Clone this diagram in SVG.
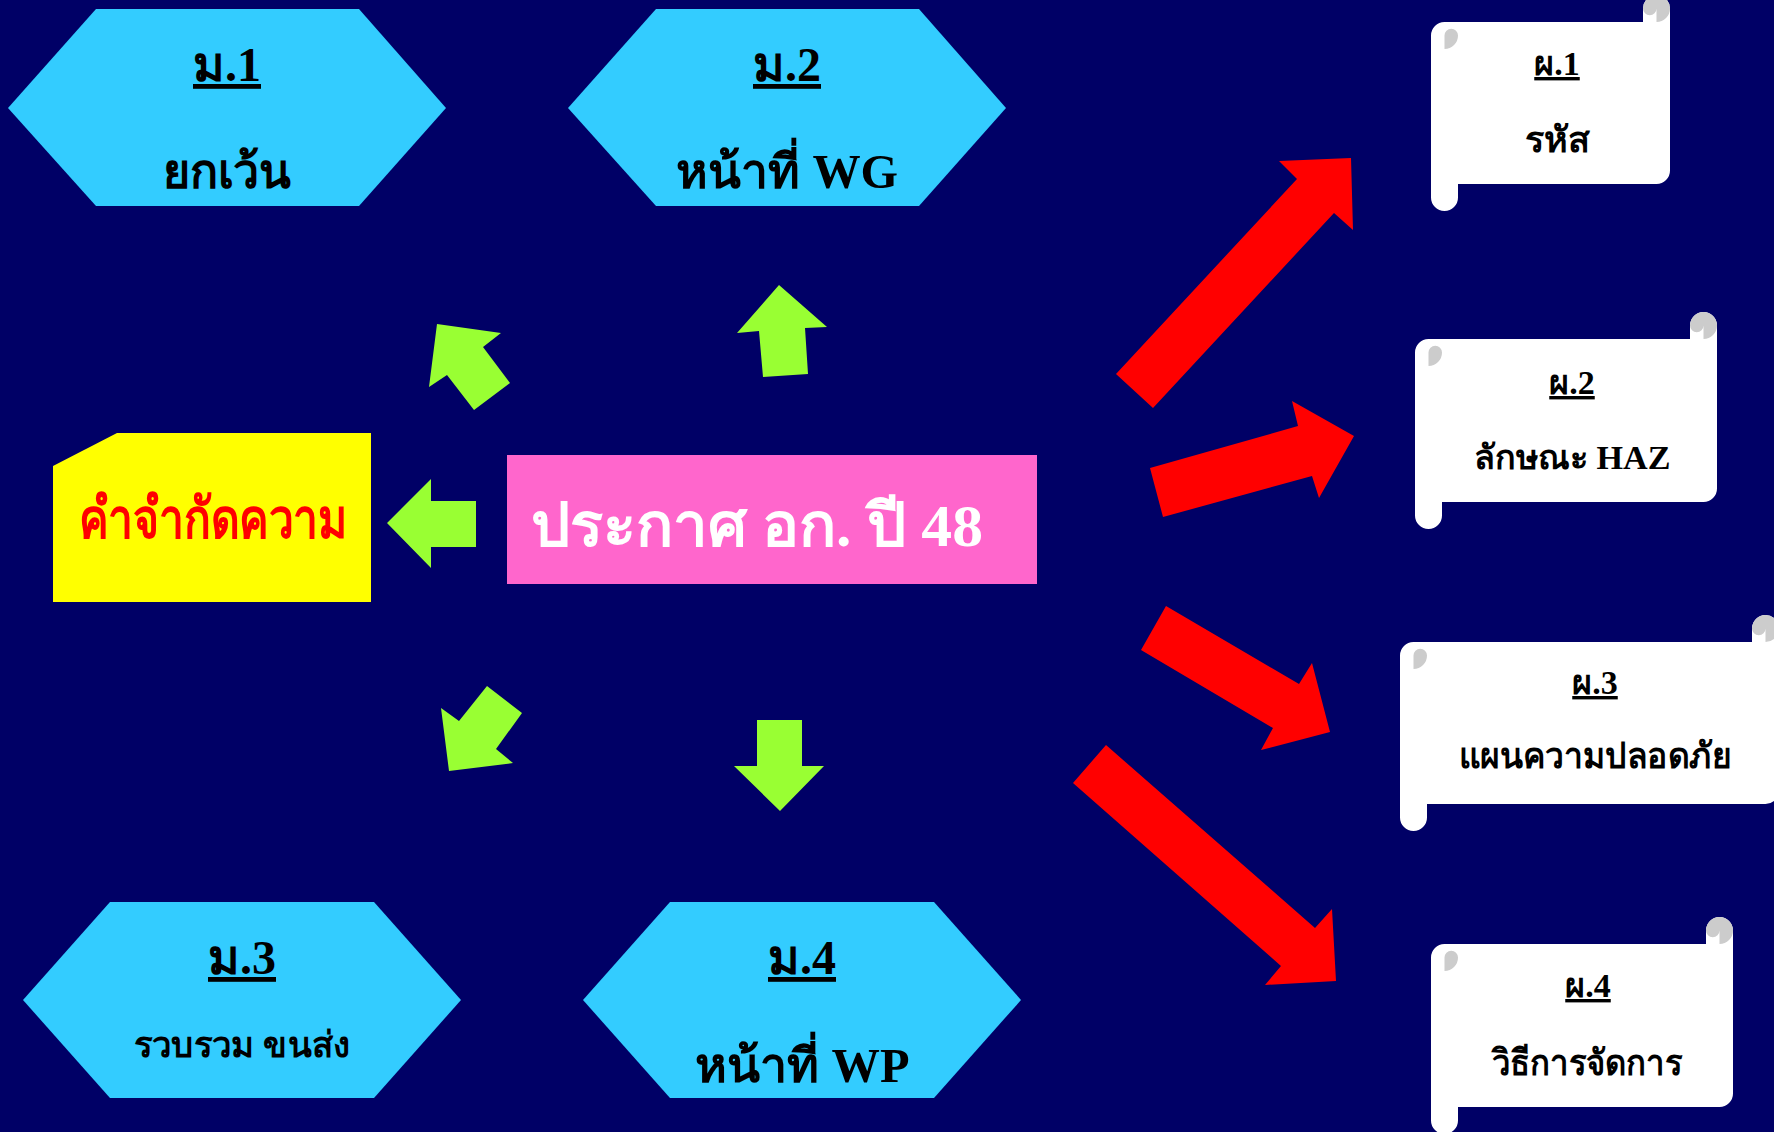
<svg xmlns="http://www.w3.org/2000/svg" width="1774" height="1132" viewBox="0 0 1774 1132">
<style>
.hex{fill:#33CCFF}
.green{fill:#99FF33}
.red{fill:#FF0000}
.body{fill:#FFFFFF}
.curl{fill:#CCCCCC}
text{font-family:"Liberation Serif","Times New Roman",serif;font-weight:bold;text-anchor:middle;fill:#000000}
.u{text-decoration:underline}
</style>
<rect x="0" y="0" width="1774" height="1132" fill="#000066"/>
<g id="connectors">
<polygon class="green" points="387,523 431,479 431,501 476,501 476,547 431,547 431,568"/>
<polygon class="green" points="779,285 827,327 805,328 808,374 763,377 759,331 737,333"/>
<polygon class="green" points="437,324 501,333 483,347 510,383 474,410 447,375 429,387"/>
<polygon class="green" points="449,771 513,763 496,749 522,713 487,686 459,721 441,708"/>
<polygon class="green" points="757,720 802,720 802,766 824,766 780,811 734,766 757,766"/>
<polygon class="red" points="1116,374 1297,179 1279,161 1351,158 1353,230 1334,213 1153,408"/>
<polygon class="red" points="1150,468 1298,426 1292,401 1354,436 1319,498 1312,476 1163,517"/>
<polygon class="red" points="1166,606 1299,684 1312,663 1330,732 1261,750 1273,728 1141,650"/>
<polygon class="red" points="1106,745 1315,928 1332,909 1336,981 1265,985 1281,966 1073,783"/>
</g>
<g id="m1">
<polygon class="hex" points="8,108 96,9 359,9 446,108 359,206 96,206"/>
<text class="u" x="227" y="81" font-size="48">ม.1</text>
<text x="227" y="188" font-size="48" textLength="129" lengthAdjust="spacingAndGlyphs">ยกเว้น</text>
</g>
<g id="m2">
<polygon class="hex" points="568,108 656,9 919,9 1006,108 919,206 656,206"/>
<text class="u" x="787" y="81" font-size="48">ม.2</text>
<text x="787" y="188" font-size="48" textLength="222" lengthAdjust="spacingAndGlyphs">หน้าที่ WG</text>
</g>
<g id="m3">
<polygon class="hex" points="23,1000 110,902 374,902 461,1000 374,1098 110,1098"/>
<text class="u" x="242" y="974" font-size="48">ม.3</text>
<text x="242" y="1057" font-size="36" textLength="217" lengthAdjust="spacingAndGlyphs">รวบรวม ขนส่ง</text>
</g>
<g id="m4">
<polygon class="hex" points="583,1000 670,902 934,902 1021,1000 934,1098 670,1098"/>
<text class="u" x="802" y="974" font-size="48">ม.4</text>
<text x="802" y="1082" font-size="48" textLength="215" lengthAdjust="spacingAndGlyphs">หน้าที่ WP</text>
</g>
<g id="definition">
<path d="M117,433 L371,433 L371,602 L53,602 L53,466 Z" fill="#FFFF00"/>
<text x="213" y="538" font-size="56" style="fill:#FF0000" textLength="268" lengthAdjust="spacingAndGlyphs">คำจำกัดความ</text>
</g>
<g id="announcement">
<rect x="507" y="455" width="530" height="129" fill="#FF66CC"/>
<text x="757" y="546" font-size="60" style="fill:#FFFFFF" textLength="452" lengthAdjust="spacingAndGlyphs">ประกาศ อก. ปี 48</text>
</g>
<g id="p1">
<path class="body" d="M1431,35.5 A13.5,13.5 0 0 1 1444.5,22 L1643,22 L1643,8.5 A13.5,13.5 0 0 1 1670,8.5 L1670,170.5 A13.5,13.5 0 0 1 1656.5,184 L1458,184 L1458,197.5 A13.5,13.5 0 0 1 1431,197.5 Z"/>
<path class="curl" d="M1444.5,49 A13.5,13.5 0 0 0 1458,35.5 A6.75,6.75 0 0 0 1444.5,35.5 Z M1656.5,22 A13.5,13.5 0 1 0 1643,8.5 A6.75,6.75 0 0 0 1656.5,8.5 Z"/>
<text class="u" x="1557" y="75" font-size="34">ผ.1</text>
<text x="1557" y="152" font-size="36">รหัส</text>
</g>
<g id="p2">
<path class="body" d="M1415,352.5 A13.5,13.5 0 0 1 1428.5,339 L1690,339 L1690,325.5 A13.5,13.5 0 0 1 1717,325.5 L1717,488.5 A13.5,13.5 0 0 1 1703.5,502 L1442,502 L1442,515.5 A13.5,13.5 0 0 1 1415,515.5 Z"/>
<path class="curl" d="M1428.5,366 A13.5,13.5 0 0 0 1442,352.5 A6.75,6.75 0 0 0 1428.5,352.5 Z M1703.5,339 A13.5,13.5 0 1 0 1690,325.5 A6.75,6.75 0 0 0 1703.5,325.5 Z"/>
<text class="u" x="1572" y="394" font-size="34">ผ.2</text>
<text x="1572" y="469" font-size="34" textLength="197" lengthAdjust="spacingAndGlyphs">ลักษณะ HAZ</text>
</g>
<g id="p3">
<path class="body" d="M1400,655.5 A13.5,13.5 0 0 1 1413.5,642 L1752,642 L1752,628.5 A13.5,13.5 0 0 1 1779,628.5 L1779,790.5 A13.5,13.5 0 0 1 1765.5,804 L1427,804 L1427,817.5 A13.5,13.5 0 0 1 1400,817.5 Z"/>
<path class="curl" d="M1413.5,669 A13.5,13.5 0 0 0 1427,655.5 A6.75,6.75 0 0 0 1413.5,655.5 Z M1765.5,642 A13.5,13.5 0 1 0 1752,628.5 A6.75,6.75 0 0 0 1765.5,628.5 Z"/>
<text class="u" x="1595" y="694" font-size="34">ผ.3</text>
<text x="1595" y="768" font-size="36" textLength="273" lengthAdjust="spacingAndGlyphs">แผนความปลอดภัย</text>
</g>
<g id="p4">
<path class="body" d="M1431,957.5 A13.5,13.5 0 0 1 1444.5,944 L1706,944 L1706,930.5 A13.5,13.5 0 0 1 1733,930.5 L1733,1093.5 A13.5,13.5 0 0 1 1719.5,1107 L1458,1107 L1458,1120.5 A13.5,13.5 0 0 1 1431,1120.5 Z"/>
<path class="curl" d="M1444.5,971 A13.5,13.5 0 0 0 1458,957.5 A6.75,6.75 0 0 0 1444.5,957.5 Z M1719.5,944 A13.5,13.5 0 1 0 1706,930.5 A6.75,6.75 0 0 0 1719.5,930.5 Z"/>
<text class="u" x="1588" y="997" font-size="34">ผ.4</text>
<text x="1587" y="1075" font-size="36" textLength="190" lengthAdjust="spacingAndGlyphs">วิธีการจัดการ</text>
</g>
</svg>
